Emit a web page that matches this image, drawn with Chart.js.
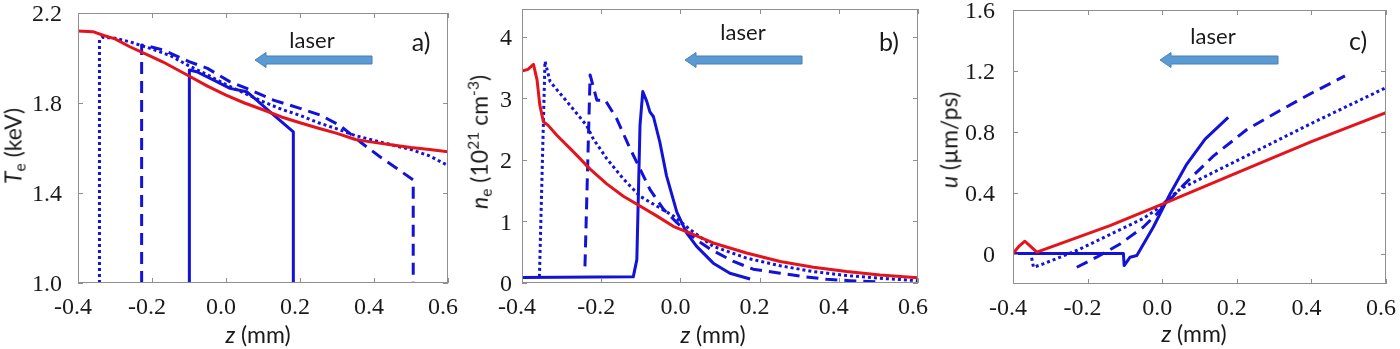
<!DOCTYPE html>
<html>
<head>
<meta charset="utf-8">
<script src="https://cdn.jsdelivr.net/npm/chart.js@4"></script>
<style>
  html, body { margin: 0; padding: 0; background: #fff; }
  #wrap { position: relative; width: 1400px; height: 349px; overflow: hidden; }
  #wrap canvas { position: absolute; top: 0; }
  .lbl { position: absolute; font-family: Lato, sans-serif; color: #1a1a1a; white-space: nowrap; line-height: 1; transform: translate(-50%, -50%); }
  .rot { transform: translate(-50%, -50%) rotate(-90deg); }
  .lbl sub { font-size: 0.68em; vertical-align: -0.28em; }
  .lbl sup { font-size: 0.68em; vertical-align: 0.55em; }
</style>
</head>
<body>
<div id="wrap">
  <canvas id="chartA" width="465" height="349" style="left:0px"></canvas>
  <canvas id="chartB" width="465" height="349" style="left:465px"></canvas>
  <canvas id="chartC" width="470" height="349" style="left:930px"></canvas>

  <div class="lbl rot" style="left:15px;top:146px;font-size:23px"><i>T</i><sub>e</sub> (keV)</div>
  <div class="lbl rot" style="left:480px;top:142px;font-size:23px"><i>n</i><sub>e</sub> (10<sup>21</sup> cm<sup>-3</sup>)</div>
  <div class="lbl rot" style="left:949px;top:140px;font-size:23px"><i>u</i> (µm/ps)</div>

  <div class="lbl" style="left:258px;top:334px;font-size:23px"><i>z</i> (mm)</div>
  <div class="lbl" style="left:713px;top:334px;font-size:23px"><i>z</i> (mm)</div>
  <div class="lbl" style="left:1194px;top:333px;font-size:23px"><i>z</i> (mm)</div>

  <div class="lbl" style="left:312px;top:40px;font-size:22px">laser</div>
  <div class="lbl" style="left:743px;top:32px;font-size:22px">laser</div>
  <div class="lbl" style="left:1213px;top:36px;font-size:22px">laser</div>

  <div class="lbl" style="left:421px;top:41px;font-size:25px">a)</div>
  <div class="lbl" style="left:889px;top:41px;font-size:25px">b)</div>
  <div class="lbl" style="left:1358px;top:40px;font-size:25px">c)</div>
</div>

<script>
// ---- tick labels ----
const zTicks = [-0.4, -0.2, 0.0, 0.2, 0.4, 0.6];
const teTicks = [1.0, 1.4, 1.8, 2.2];
const neTicks = [0, 1, 2, 3, 4];
const uTicks = [0, 0.4, 0.8, 1.2, 1.6];

// ---- a) electron temperature Te (keV) vs z (mm) ----
const aRedZ = [-0.4, -0.36, -0.33, -0.3, -0.26, -0.2, -0.17, -0.1, -0.05, 0.0, 0.05, 0.1, 0.15, 0.2, 0.25, 0.3, 0.35, 0.4, 0.45, 0.5, 0.55, 0.6];
const aRedT = [2.12, 2.117, 2.1, 2.085, 2.05, 2.005, 1.982, 1.92, 1.875, 1.835, 1.8, 1.77, 1.738, 1.712, 1.688, 1.665, 1.638, 1.625, 1.613, 1.602, 1.593, 1.583];

const aDotZ = [-0.342, -0.342, -0.335, -0.3, -0.26, -0.2, -0.15, -0.1, -0.05, 0.0, 0.05, 0.1, 0.15, 0.2, 0.25, 0.3, 0.35, 0.4, 0.45, 0.5, 0.55, 0.6];
const aDotT = [1.0, 2.08, 2.092, 2.088, 2.072, 2.04, 2.01, 1.965, 1.925, 1.882, 1.843, 1.806, 1.772, 1.745, 1.712, 1.685, 1.655, 1.634, 1.613, 1.593, 1.565, 1.522];

const aDashZ = [-0.228, -0.228, -0.205, -0.17, -0.1, -0.05, 0.01, 0.056, 0.128, 0.2, 0.254, 0.308, 0.362, 0.416, 0.461, 0.506, 0.506];
const aDashT = [1.0, 2.058, 2.05, 2.036, 1.984, 1.954, 1.895, 1.865, 1.813, 1.776, 1.747, 1.70, 1.628, 1.561, 1.51, 1.458, 1.0];

const aSolZ = [-0.099, -0.099, -0.079, -0.025, 0.011, 0.056, 0.083, 0.119, 0.182, 0.182];
const aSolT = [1.0, 1.947, 1.939, 1.895, 1.865, 1.85, 1.813, 1.761, 1.672, 1.0];

// ---- b) electron density ne (10^21 cm^-3) vs z ----
const bRedZ = [-0.4, -0.385, -0.371, -0.362, -0.355, -0.346, -0.334, -0.312, -0.27, -0.228, -0.186, -0.144, -0.102, -0.06, -0.018, 0.024, 0.083, 0.167, 0.252, 0.336, 0.42, 0.504, 0.6];
const bRedN = [3.44, 3.47, 3.55, 3.3, 2.89, 2.62, 2.56, 2.40, 2.13, 1.85, 1.61, 1.41, 1.25, 1.09, 0.92, 0.81, 0.65, 0.487, 0.35, 0.257, 0.186, 0.131, 0.085];

const bDotZ = [-0.356, -0.342, -0.336, -0.329, -0.287, -0.237, -0.22, -0.186, -0.144, -0.102, -0.06, -0.018, 0.024, 0.083, 0.167, 0.252, 0.336, 0.42, 0.504, 0.6];
const bDotN = [0.1, 3.6, 3.45, 3.27, 2.95, 2.56, 2.34, 2.02, 1.69, 1.41, 1.25, 1.09, 0.87, 0.595, 0.404, 0.279, 0.186, 0.12, 0.077, 0.038];

const bDashZ = [-0.241, -0.228, -0.211, -0.19, -0.161, -0.127, -0.11, -0.077, -0.043, -0.009, 0.041, 0.075, 0.134, 0.184, 0.252, 0.31, 0.369, 0.428, 0.5];
const bDashN = [0.27, 3.38, 2.97, 2.97, 2.67, 2.18, 1.96, 1.52, 1.20, 0.98, 0.70, 0.552, 0.35, 0.224, 0.159, 0.104, 0.06, 0.038, 0.02];

const bSolZ = [-0.4, -0.119, -0.11, -0.106, -0.102, -0.095, -0.085, -0.077, -0.068, -0.052, -0.035, -0.009, 0.016, 0.041, 0.083, 0.125, 0.176];
const bSolN = [0.09, 0.1, 0.38, 1.47, 2.56, 3.11, 2.95, 2.78, 2.70, 2.29, 1.74, 1.15, 0.81, 0.595, 0.322, 0.158, 0.066];

// ---- c) flow velocity u (um/ps) vs z ----
const cRedZ = [-0.4, -0.385, -0.368, -0.35, -0.336, -0.14, 0.012, 0.2, 0.4, 0.6];
const cRedU = [0, 0.045, 0.081, 0.04, 0.009, 0.184, 0.336, 0.53, 0.735, 0.925];

const cDotZ = [-0.35, -0.345, -0.319, -0.229, -0.14, -0.051, -0.015, 0.048, 0.227, 0.405, 0.6];
const cDotU = [-0.028, -0.09, -0.068, 0.02, 0.125, 0.23, 0.29, 0.424, 0.643, 0.861, 1.09];

const cDashZ = [-0.229, -0.176, -0.113, -0.051, -0.015, 0.057, 0.137, 0.227, 0.316, 0.405, 0.49];
const cDashU = [-0.09, -0.024, 0.063, 0.173, 0.26, 0.45, 0.64, 0.815, 0.94, 1.06, 1.167];

const cSolZ = [-0.4, -0.104, -0.102, -0.086, -0.068, -0.024, 0.021, 0.066, 0.115, 0.177];
const cSolU = [0, 0, -0.079, -0.024, -0.013, 0.173, 0.391, 0.588, 0.752, 0.894];

// colours / line styles
const RED = '#e3141b';
const BLUE = '#1212d8';

function pts(xs, ys) {
    return xs.map((x, i) => ({ x: x, y: ys[i] }));
}

function line(xs, ys, color, dash) {
    return {
        data: pts(xs, ys),
        borderColor: color,
        borderWidth: 3,
        borderDash: dash || [],
        borderCapStyle: 'butt',
        borderJoinStyle: 'round',
        pointRadius: 0,
        showLine: true,
        tension: 0,
        fill: false
    };
}

// scales add their own padding for edge labels; drop it so the plot box lands where we want
function noScalePadding(s) {
    s.paddingTop = 0;
    s.paddingBottom = 0;
    s.paddingLeft = 0;
    s.paddingRight = 0;
}

// matlab-like box with inward ticks on all four sides, plus the "laser" arrow
const boxPlugin = {
    id: 'boxPlugin',
    afterDatasetsDraw(chart, args, opts) {
        const { ctx, chartArea: a, scales } = chart;
        ctx.save();
        ctx.strokeStyle = '#8f8f8f';
        ctx.lineWidth = 1;
        ctx.strokeRect(a.left + 0.5, a.top + 0.5, a.right - a.left - 1, a.bottom - a.top - 1);
        ctx.beginPath();
        scales.x.ticks.forEach(t => {
            const px = Math.round(scales.x.getPixelForValue(t.value)) + 0.5;
            ctx.moveTo(px, a.bottom); ctx.lineTo(px, a.bottom - 5);
            ctx.moveTo(px, a.top); ctx.lineTo(px, a.top + 5);
        });
        scales.y.ticks.forEach(t => {
            const py = Math.round(scales.y.getPixelForValue(t.value)) + 0.5;
            ctx.moveTo(a.left, py); ctx.lineTo(a.left + 5, py);
            ctx.moveTo(a.right, py); ctx.lineTo(a.right - 5, py);
        });
        ctx.stroke();

        // arrow pointing left (tip at x0, tail at x1), canvas pixels
        const ar = opts.arrow;
        if (ar) {
            const y = ar.y, sh = 4, hh = 7.5, hl = 11;
            ctx.beginPath();
            ctx.moveTo(ar.x0, y);
            ctx.lineTo(ar.x0 + hl, y - hh);
            ctx.lineTo(ar.x0 + hl, y - sh);
            ctx.lineTo(ar.x1, y - sh);
            ctx.lineTo(ar.x1, y + sh);
            ctx.lineTo(ar.x0 + hl, y + sh);
            ctx.lineTo(ar.x0 + hl, y + hh);
            ctx.closePath();
            ctx.fillStyle = '#5b9bd5';
            ctx.fill();
            ctx.strokeStyle = '#4a7fb5';
            ctx.stroke();
        }
        ctx.restore();
    }
};

function makePanel(id, datasets, yMin, yMax, yTicks, yFmt, area, canvasW, arrow) {
    const tickFont = { family: "'Liberation Serif', 'Times New Roman', serif", size: 24, style: 'normal' };
    new Chart(document.getElementById(id), {
        type: 'scatter',
        data: { datasets: datasets },
        plugins: [boxPlugin],
        options: {
            responsive: false,
            animation: false,
            layout: {
                autoPadding: false,
                padding: { left: 0, top: area.top, right: canvasW - area.right, bottom: 0 }
            },
            plugins: {
                legend: { display: false },
                tooltip: { enabled: false },
                boxPlugin: { arrow: arrow }
            },
            scales: {
                x: {
                    type: 'linear',
                    min: -0.4,
                    max: 0.6,
                    afterBuildTicks: s => { s.ticks = zTicks.map(v => ({ value: v })); },
                    afterFit: s => { s.height = 349 - area.bottom; noScalePadding(s); },
                    grid: { display: false, drawTicks: false },
                    border: { display: false },
                    ticks: {
                        font: tickFont,
                        color: '#1a1a1a',
                        padding: 10,
                        labelOffset: -5,
                        maxRotation: 0,
                        callback: v => v.toFixed(1)
                    }
                },
                y: {
                    type: 'linear',
                    min: yMin,
                    max: yMax,
                    afterBuildTicks: s => { s.ticks = yTicks.map(v => ({ value: v })); },
                    afterFit: s => { s.width = area.left; noScalePadding(s); },
                    grid: { display: false, drawTicks: false },
                    border: { display: false },
                    ticks: {
                        font: tickFont,
                        color: '#1a1a1a',
                        padding: area.pad,
                        labelOffset: 2,
                        callback: yFmt
                    }
                }
            }
        }
    });
}

makePanel('chartA', [
    line(aRedZ, aRedT, RED),
    line(aDotZ, aDotT, BLUE, [3, 3]),
    line(aDashZ, aDashT, BLUE, [12, 7]),
    line(aSolZ, aSolT, BLUE)
], 1.0, 2.2, teTicks, v => v.toFixed(1),
   { left: 78, right: 448, top: 13, bottom: 283, pad: 16 }, 465,
   { x0: 255, x1: 372, y: 60 });

makePanel('chartB', [
    line(bRedZ, bRedN, RED),
    line(bDotZ, bDotN, BLUE, [3, 3]),
    line(bDashZ, bDashN, BLUE, [12, 7]),
    line(bSolZ, bSolN, BLUE)
], 0, 4.45, neTicks, v => String(v),
   { left: 57, right: 453, top: 9, bottom: 283, pad: 10 }, 465,
   { x0: 220, x1: 337, y: 60 });

makePanel('chartC', [
    line(cRedZ, cRedU, RED),
    line(cDotZ, cDotU, BLUE, [3, 3]),
    line(cDashZ, cDashU, BLUE, [12, 7]),
    line(cSolZ, cSolU, BLUE)
], -0.2, 1.6, uTicks, v => (v === 0 ? '0' : v.toFixed(1)),
   { left: 83, right: 456, top: 10, bottom: 284, pad: 18 }, 470,
   { x0: 230, x1: 348, y: 60 });
</script>
</body>
</html>
